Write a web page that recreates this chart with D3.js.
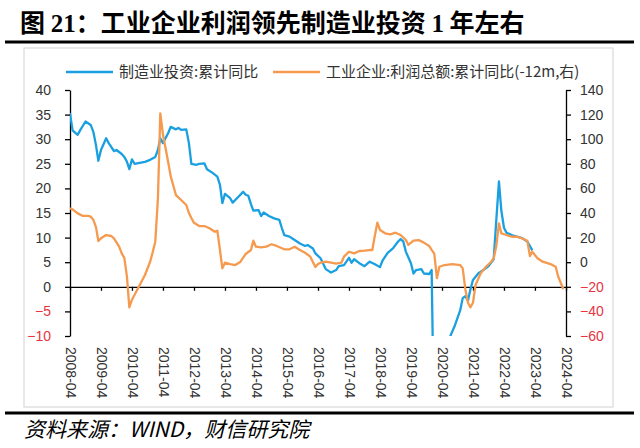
<!DOCTYPE html>
<html><head><meta charset="utf-8">
<script src="https://cdn.jsdelivr.net/npm/d3@7"></script>
<style>body{margin:0;background:#fff}</style>
</head><body>
<svg id="chart" width="640" height="448"></svg>
<script>
// ---- data ----
const invDates = ["2008-04","2008-05","2008-07","2008-08","2008-10","2008-12","2009-01","2009-02","2009-03","2009-04","2009-06","2009-07","2009-09","2009-10","2009-12","2010-01","2010-02","2010-03","2010-04","2010-05","2010-07","2010-09","2010-11","2011-01","2011-02","2011-03","2011-04","2011-06","2011-07","2011-09","2011-10","2011-11","2012-01","2012-02","2012-03","2012-05","2012-06","2012-08","2012-09","2012-11","2013-01","2013-02","2013-03","2013-04","2013-06","2013-07","2013-09","2013-11","2013-12","2014-01","2014-02","2014-03","2014-05","2014-06","2014-07","2014-09","2014-11","2015-01","2015-02","2015-03","2015-05","2015-07","2015-09","2015-11","2015-12","2016-02","2016-03","2016-05","2016-07","2016-09","2016-11","2016-12","2017-02","2017-04","2017-05","2017-06","2017-08","2017-10","2017-12","2018-02","2018-04","2018-05","2018-07","2018-09","2018-11","2018-12","2019-01","2019-02","2019-04","2019-05","2019-06","2019-08","2019-09","2019-11","2019-12","2020-01","2020-03","2020-04","2020-05","2020-06","2020-07","2020-09","2020-11","2020-12","2021-01","2021-02","2021-03","2021-04","2021-06","2021-08","2021-10","2021-12","2022-01","2022-02","2022-03","2022-04","2022-05","2022-07","2022-09","2022-11","2023-01","2023-02","2023-03"];
const invValues = [35.3,31.8,30.9,31.9,33.6,32.9,31.5,28.8,25.6,27.8,30.2,29.2,27.6,27.8,27.0,26.4,25.4,23.9,25.9,25.0,25.2,25.4,25.8,26.4,27.8,30.2,29.2,31.2,32.5,32.0,32.3,31.9,32.0,29.2,25.0,24.8,25.0,25.1,23.9,23.2,22.4,20.7,17.0,18.9,18.0,17.1,18.2,19.3,18.7,18.5,16.8,15.5,15.6,14.4,15.1,14.4,13.9,13.6,11.9,10.5,10.2,9.5,8.8,8.3,8.5,7.8,6.8,5.8,3.6,2.9,3.4,4.2,4.4,5.9,4.9,5.6,4.8,4.2,5.1,4.6,4.0,5.3,6.9,7.8,9.2,9.7,9.2,7.1,4.8,2.7,3.4,3.6,2.7,2.6,3.4,-31.5,-25.2,-18.8,-14.8,-11.7,-10.3,-7.8,-4.8,-2.3,-1.9,-2.8,-0.6,1.4,2.7,3.4,4.2,5.6,13.6,21.4,15.5,12.0,11.0,10.5,10.2,9.9,9.2,8.3,7.4];

const profDates = ["2008-04","2008-05","2008-07","2008-09","2008-11","2008-12","2009-01","2009-02","2009-03","2009-04","2009-06","2009-08","2009-09","2009-11","2009-12","2010-01","2010-02","2010-03","2010-04","2010-06","2010-09","2010-11","2010-12","2011-01","2011-02","2011-03","2011-04","2011-06","2011-07","2011-09","2011-11","2012-01","2012-02","2012-03","2012-04","2012-06","2012-08","2012-10","2012-12","2013-01","2013-02","2013-03","2013-04","2013-06","2013-08","2013-10","2013-12","2014-02","2014-03","2014-04","2014-06","2014-08","2014-10","2014-12","2015-03","2015-05","2015-07","2015-09","2015-11","2016-01","2016-03","2016-04","2016-05","2016-07","2016-09","2016-11","2017-01","2017-02","2017-04","2017-06","2017-08","2017-10","2017-12","2018-01","2018-02","2018-03","2018-04","2018-06","2018-08","2018-10","2018-12","2019-02","2019-03","2019-05","2019-07","2019-09","2019-11","2019-12","2020-01","2020-02","2020-03","2020-05","2020-08","2020-11","2020-12","2021-01","2021-02","2021-03","2021-04","2021-05","2021-07","2021-09","2021-11","2021-12","2022-01","2022-02","2022-03","2022-05","2022-07","2022-09","2022-11","2023-01","2023-02","2023-03","2023-05","2023-07","2023-10","2023-12","2024-01","2024-03"];
const profValues = [43.8,43.0,39.7,37.6,37.6,37.0,34.5,28.5,17.2,19.4,22.1,21.3,19.4,12.6,7.2,3.5,-11.8,-36.7,-30.5,-22.6,-10.4,0.4,8.0,16.7,52,121,104,81.7,70,54.6,50.6,46.5,40,36,32,29.4,29.4,27.6,24.8,25.6,9.9,-5.0,-0.4,-1.5,-2.3,0.4,6.7,9.9,17.5,12.6,12.1,12.6,14.6,13.2,10.5,10.5,12.6,9.9,7.7,4.5,-4.0,-1.5,-0.4,0.4,-0.4,-1.1,-0.4,4.5,8.5,7.2,9.1,9.4,9.9,9.9,22.0,32.1,26.2,23.5,22.7,24.0,22.1,18.0,14.0,17.5,18.0,15.9,13.2,10.0,7.0,-13.0,-3.7,-2.3,-1.5,-2.3,-5.0,-22.0,-33.0,-36.7,-33.0,-18.5,-9.0,-3.7,0.4,3.2,13.2,31.6,23.5,22.1,20.7,20.7,19.4,17.5,5.0,8.5,3.2,0.4,-1.5,-3.7,-11.8,-22.0];

const leftTicks = [40,35,30,25,20,15,10,5,0,-5,-10];
const rightTicks = [140,120,100,80,60,40,20,0,-20,-40,-60];
const xTickLabels = ["2008-04","2009-04","2010-04","2011-04","2012-04","2013-04","2014-04","2015-04","2016-04","2017-04","2018-04","2019-04","2020-04","2021-04","2022-04","2023-04","2024-04"];
const seriesNames = ["制造业投资:累计同比","工业企业:利润总额:累计同比(-12m,右)"];
const titleParts = [["图 ","cjk"],["21","num"],["：工业企业利润领先制造业投资 ","cjk"],["1","num"],[" 年左右","cjk"]];
const sourceText = "资料来源：WIND，财信研究院";

// ---- layout ----
const W = 640, H = 448;
const L = 70, R = 566, T = 90, B = 336;
const BLUE = "#1aa0e0", ORANGE = "#f59a4e", NEG = "#e8343f", TXT = "#333";
const CJK = "'Noto Sans CJK SC', sans-serif";
const NUM = "'Liberation Sans', Arial, sans-serif";

const parse = d3.timeParse("%Y-%m");
const svg = d3.select("#chart");

const x = d3.scaleTime().domain([parse("2008-04"), parse("2024-04")]).range([L, R]);
const yL = d3.scaleLinear().domain([-10, 40]).range([B, T]);
const yR = d3.scaleLinear().domain([-60, 140]).range([B, T]);

// title
const title = svg.append("text").attr("x", 20).attr("y", 32).attr("font-size", 25).attr("font-weight", "bold").attr("fill", "#000");
titleParts.forEach(([t, k]) => {
  title.append("tspan").text(t).attr("font-family", k === "num" ? "'Liberation Serif', serif" : CJK);
});
svg.append("line").attr("x1", 5).attr("x2", 634).attr("y1", 42).attr("y2", 42).attr("stroke", "#000").attr("stroke-width", 3);

// frame
svg.append("rect").attr("x", 24).attr("y", 48).attr("width", 589).attr("height", 359)
  .attr("fill", "none").attr("stroke", "#d9d9d9").attr("stroke-width", 1.2);

// legend
const legendItems = [
  {name: seriesNames[0], color: BLUE, x: 66},
  {name: seriesNames[1], color: ORANGE, x: 273}
];
legendItems.forEach(it => {
  svg.append("line").attr("x1", it.x).attr("x2", it.x + 47).attr("y1", 72).attr("y2", 72)
    .attr("stroke", it.color).attr("stroke-width", 2.5);
  svg.append("text").attr("x", it.x + 53).attr("y", 72).attr("dy", "0.35em")
    .attr("font-family", CJK).attr("font-size", 15).attr("fill", TXT).text(it.name);
});

// left axis
const gL = svg.append("g").attr("transform", `translate(${L},0)`)
  .call(d3.axisLeft(yL).tickValues(leftTicks).tickSize(5).tickPadding(14).tickSizeOuter(0));
gL.selectAll("text").attr("font-family", NUM).attr("font-size", 14)
  .attr("fill", d => d < 0 ? NEG : TXT);
gL.selectAll("line,path").attr("stroke", "#000").attr("stroke-width", 1.3);

// right axis
const gR = svg.append("g").attr("transform", `translate(${R},0)`)
  .call(d3.axisRight(yR).tickValues(rightTicks).tickSize(5).tickPadding(9).tickSizeOuter(0));
gR.selectAll("text").attr("font-family", NUM).attr("font-size", 14)
  .attr("fill", d => d < 0 ? NEG : TXT);
gR.selectAll("line,path").attr("stroke", "#000").attr("stroke-width", 1.3);

// bottom axis at zero line
const y0 = yL(0);
const gX = svg.append("g").attr("transform", `translate(0,${y0})`)
  .call(d3.axisBottom(x).tickValues(xTickLabels.map(parse)).tickSize(4).tickSizeOuter(0)
    .tickFormat(d3.timeFormat("%Y-%m")));
gX.selectAll("line,path").attr("stroke", "#000").attr("stroke-width", 1.3);
gX.selectAll("text")
  .attr("font-family", NUM).attr("font-size", 14).attr("fill", TXT)
  .attr("x", 0).attr("y", 0).attr("dy", "0.35em")
  .attr("text-anchor", "start")
  .attr("transform", `translate(0,${347 - y0}) rotate(90)`);

// clip
svg.append("clipPath").attr("id", "plot").append("rect")
  .attr("x", L).attr("y", T).attr("width", R - L).attr("height", B - T);

const invData = invDates.map((d, i) => ({date: parse(d), v: invValues[i]}));
const profData = profDates.map((d, i) => ({date: parse(d), v: profValues[i]}));

svg.append("path").datum(invData).attr("clip-path", "url(#plot)")
  .attr("fill", "none").attr("stroke", BLUE).attr("stroke-width", 2.3).attr("stroke-linejoin", "round")
  .attr("d", d3.line().x(d => x(d.date)).y(d => yL(d.v)));
svg.append("path").datum(profData).attr("clip-path", "url(#plot)")
  .attr("fill", "none").attr("stroke", ORANGE).attr("stroke-width", 2.3).attr("stroke-linejoin", "round")
  .attr("d", d3.line().x(d => x(d.date)).y(d => yR(d.v)));

// bottom rule and source
svg.append("line").attr("x1", 5).attr("x2", 634).attr("y1", 413).attr("y2", 413).attr("stroke", "#000").attr("stroke-width", 3);
svg.append("text").attr("x", 24).attr("y", 437).attr("font-family", CJK).attr("font-style", "italic")
  .attr("font-size", 21).attr("fill", "#000").text(sourceText);
</script>
</body></html>
